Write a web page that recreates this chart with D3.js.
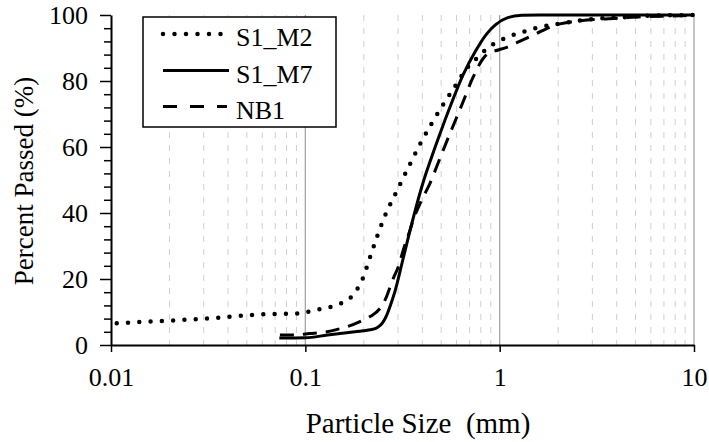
<!DOCTYPE html>
<html><head><meta charset="utf-8">
<script src="https://cdn.jsdelivr.net/npm/d3@7"></script>
<style>
body{margin:0;background:#fff}
svg{display:block}
</style>
</head><body>
<svg id="c" width="709" height="442"></svg>
<script>
// ---- data ----
const seriesNames = ["S1_M2", "S1_M7", "NB1"];

const m2Size = [0.0107, 0.0183, 0.031, 0.041, 0.053, 0.069, 0.09, 0.1036, 0.118, 0.135, 0.1526, 0.1712, 0.1852, 0.197, 0.215, 0.2345, 0.258, 0.2893, 0.3456, 0.389, 0.4433, 0.509, 0.589, 0.6817, 0.753, 0.83, 0.917, 1.032, 1.167, 1.323, 1.502, 2.21, 2.92, 4.31, 5.47, 10];
const m2Pass = [6.6, 7.3, 8.0, 8.6, 9.1, 9.4, 9.5, 10.1, 10.8, 11.5, 12.6, 14.4, 17.0, 20.0, 26.5, 33.0, 39.4, 45.5, 54.8, 60.8, 66.8, 72.6, 78.4, 84.0, 86.6, 89.0, 91.0, 92.6, 93.9, 94.9, 95.9, 97.7, 98.7, 99.3, 99.7, 100];

const m7Size = [0.0735, 0.1, 0.13, 0.18, 0.215, 0.235, 0.25, 0.262, 0.275, 0.29, 0.315, 0.345, 0.40, 0.45, 0.50, 0.55, 0.65, 0.75, 0.85, 0.95, 1.1, 1.3, 1.6, 10];
const m7Pass = [2.1, 2.2, 3.0, 4.0, 4.6, 5.3, 6.8, 9.0, 12.3, 16.5, 25.0, 34.5, 48.5, 57.5, 65.0, 71.5, 82.0, 89.0, 94.0, 97.0, 99.2, 99.9, 100, 100];

const nb1Size = [0.074, 0.0885, 0.1056, 0.119, 0.1478, 0.1633, 0.191, 0.2152, 0.2423, 0.257, 0.2836, 0.301, 0.3192, 0.3456, 0.3594, 0.397, 0.438, 0.493, 0.555, 0.638, 0.732, 0.824, 0.874, 0.984, 1.087, 1.224, 1.378, 1.551, 1.746, 2.044, 2.393, 3.158, 4.0, 5.48, 7.8, 10];
const nb1Pass = [3.0, 3.0, 3.5, 3.7, 4.8, 5.5, 7.1, 8.6, 11.1, 13.6, 20.2, 23.7, 28.8, 34.8, 37.9, 43.9, 49.0, 56.6, 64.1, 72.7, 81.3, 86.9, 88.4, 89.4, 90.2, 91.6, 93.0, 94.4, 95.9, 97.3, 98.0, 98.7, 99.0, 99.5, 99.7, 100];

const xTickValues = [0.01, 0.1, 1, 10];
const xTickLabels = ["0.01", "0.1", "1", "10"];
const yTickValues = [0, 20, 40, 60, 80, 100];
const yTickLabels = ["0", "20", "40", "60", "80", "100"];
const yMinorTicks = [4, 8, 12, 16, 24, 28, 32, 36, 44, 48, 52, 56, 64, 68, 72, 76, 84, 88, 92, 96];
const xTitle = "Particle Size\u00a0\u00a0(mm)";
const yTitle = "Percent Passed (%)";

// ---- layout ----
const FONT = "'Liberation Serif', 'Times New Roman', serif";
const L = 111, R = 694, T = 15, B = 345;
const svg = d3.select("#c");
const x = d3.scaleLog().domain([0.01, 10]).range([L, R]);
const y = d3.scaleLinear().domain([0, 100]).range([B, T]);

// minor vertical gridlines
const minorX = [];
[0.01, 0.1, 1].forEach(d => { for (let k = 2; k <= 9; k++) minorX.push(+(d * k).toPrecision(3)); });
svg.append("g").selectAll("line").data(minorX).join("line")
  .attr("x1", d => x(d)).attr("x2", d => x(d)).attr("y1", T).attr("y2", B)
  .attr("stroke", "#cfcfcf").attr("stroke-width", 1).attr("stroke-dasharray", "6 7");
// major vertical gridlines
svg.append("g").selectAll("line").data([0.1, 1, 10]).join("line")
  .attr("x1", d => x(d)).attr("x2", d => x(d)).attr("y1", T).attr("y2", B)
  .attr("stroke", "#a6a6a6").attr("stroke-width", 1.3);

// axes
const yAxis = svg.append("g").attr("transform", `translate(${L},0)`)
  .call(d3.axisLeft(y).tickValues(yTickValues).tickSize(11).tickSizeOuter(0).tickPadding(12)
    .tickFormat((d, i) => yTickLabels[i]));
const yMinor = svg.append("g").attr("transform", `translate(${L},0)`)
  .call(d3.axisLeft(y).tickValues(yMinorTicks).tickSize(7).tickSizeOuter(0).tickFormat(""));
yMinor.select(".domain").remove();
const xAxis = svg.append("g").attr("transform", `translate(0,${B})`)
  .call(d3.axisBottom(x).tickValues(xTickValues).tickSize(7).tickSizeOuter(0).tickPadding(16)
    .tickFormat((d, i) => xTickLabels[i]));
[yAxis, yMinor, xAxis].forEach(g => {
  g.attr("font-family", null).attr("font-size", null);
  g.selectAll("line").attr("stroke", "#000").attr("stroke-width", 1.5);
  g.select(".domain").attr("stroke", "#000").attr("stroke-width", 2);
  g.selectAll("text").style("font-family", FONT).style("font-size", "26px").attr("fill", "#000");
});
yAxis.selectAll("text").attr("dy", "0.34em");

// titles
svg.append("text").attr("x", 418).attr("y", 433).attr("text-anchor", "middle")
  .style("font-family", FONT).style("font-size", "29px").attr("fill", "#000").text(xTitle);
svg.append("text").attr("transform", "translate(33,181) rotate(-90)").attr("text-anchor", "middle")
  .style("font-family", FONT).style("font-size", "27px").attr("fill", "#000").text(yTitle);

// series
const zip = (a, b) => a.map((v, i) => [v, b[i]]);
const line = d3.line().x(d => x(d[0])).y(d => y(d[1])).curve(d3.curveMonotoneX);
const series = [
  { name: seriesNames[0], data: zip(m2Size, m2Pass), dash: "0 11.3", width: 4.5, cap: "round", legDash: "0 11.5" },
  { name: seriesNames[1], data: zip(m7Size, m7Pass), dash: null, width: 3, cap: "butt", legDash: null },
  { name: seriesNames[2], data: zip(nb1Size, nb1Pass), dash: "14 9", width: 3, cap: "butt", legDash: "14 13" }
];
svg.append("g").selectAll("path").data(series).join("path")
  .attr("d", d => line(d.data)).attr("fill", "none").attr("stroke", "#000")
  .attr("stroke-width", d => d.width).attr("stroke-linecap", d => d.cap)
  .attr("stroke-dasharray", d => d.dash);

// legend
const leg = svg.append("g");
leg.append("rect").attr("x", 143).attr("y", 17).attr("width", 193).attr("height", 110)
  .attr("fill", "#fff").attr("stroke", "#000").attr("stroke-width", 1.5);
const legY = [34, 70.5, 106.5];
series.forEach((s, i) => {
  leg.append("line").attr("x1", 163).attr("x2", s.dash ? 227 : 229).attr("y1", legY[i]).attr("y2", legY[i])
    .attr("stroke", "#000").attr("stroke-width", s.width).attr("stroke-linecap", s.cap)
    .attr("stroke-dasharray", s.legDash);
  leg.append("text").attr("x", 236).attr("y", legY[i] + 12)
    .style("font-family", FONT).style("font-size", "26px").attr("fill", "#000").text(s.name);
});
</script>
</body></html>
